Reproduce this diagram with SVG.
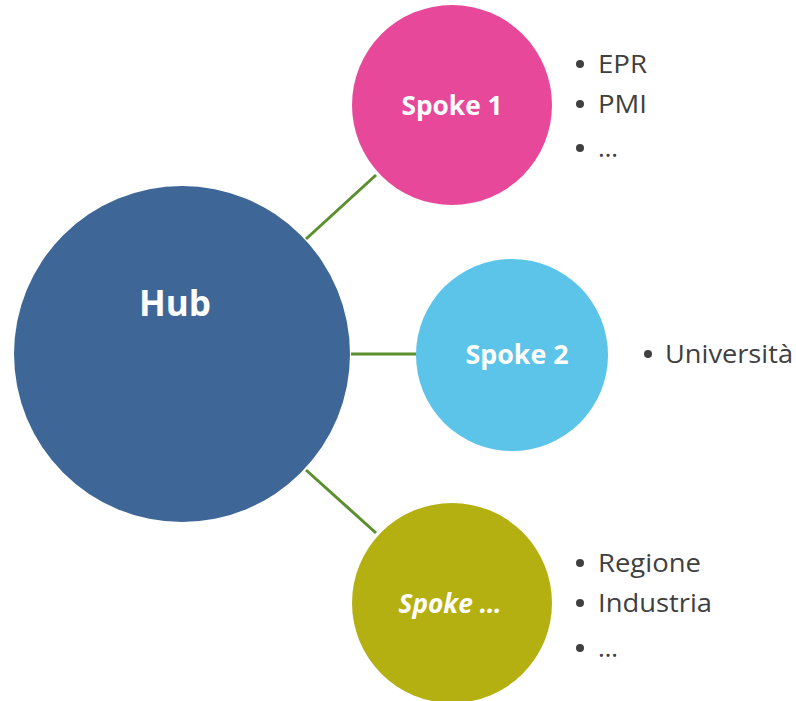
<svg xmlns="http://www.w3.org/2000/svg" width="796" height="701" viewBox="0 0 796 701">
<style>
.lbl{font-family:"Open Sans","Noto Sans",sans-serif;font-weight:bold;fill:#ffffff;text-anchor:middle}
.bul{font-family:"Open Sans","Noto Sans",sans-serif;font-size:25px;fill:#404040}
.con{stroke:#5B8F2E;stroke-width:3;fill:none}
</style>
<rect width="796" height="701" fill="#ffffff"/>
<g id="connectors">
<line class="con" x1="306" y1="239" x2="376" y2="175"/>
<line class="con" x1="351" y1="354" x2="416" y2="354"/>
<line class="con" x1="306" y1="470" x2="376" y2="533"/>
</g>
<g id="hub">
<circle cx="182" cy="354" r="168" fill="#3E6797"/>
<text class="lbl" x="175" y="316" font-size="36" textLength="72" lengthAdjust="spacingAndGlyphs">Hub</text>
</g>
<g id="spoke1">
<circle cx="452" cy="105" r="100" fill="#E8489A"/>
<text class="lbl" x="452" y="115" font-size="26" textLength="101" lengthAdjust="spacingAndGlyphs">Spoke 1</text>
</g>
<g id="spoke2">
<circle cx="512" cy="355" r="96" fill="#5BC4E8"/>
<text class="lbl" x="517" y="364" font-size="26" textLength="103" lengthAdjust="spacingAndGlyphs">Spoke 2</text>
</g>
<g id="spoke3">
<circle cx="452" cy="603" r="100" fill="#B5B012"/>
<text class="lbl" x="450" y="613" font-size="26" font-style="italic" textLength="103" lengthAdjust="spacingAndGlyphs">Spoke …</text>
</g>
<g id="list1">
<circle cx="580" cy="64" r="4" fill="#404040"/>
<text class="bul" x="598" y="73" textLength="49" lengthAdjust="spacingAndGlyphs">EPR</text>
<circle cx="580" cy="104" r="4" fill="#404040"/>
<text class="bul" x="598" y="113" textLength="49" lengthAdjust="spacingAndGlyphs">PMI</text>
<circle cx="580" cy="148" r="4" fill="#404040"/>
<text class="bul" x="598" y="157" textLength="20" lengthAdjust="spacingAndGlyphs">…</text>
</g>
<g id="list2">
<circle cx="648" cy="354" r="4" fill="#404040"/>
<text class="bul" x="665" y="363" textLength="128" lengthAdjust="spacingAndGlyphs">Università</text>
</g>
<g id="list3">
<circle cx="580" cy="563" r="4" fill="#404040"/>
<text class="bul" x="598" y="572" textLength="103" lengthAdjust="spacingAndGlyphs">Regione</text>
<circle cx="580" cy="603" r="4" fill="#404040"/>
<text class="bul" x="598" y="612" textLength="114" lengthAdjust="spacingAndGlyphs">Industria</text>
<circle cx="580" cy="648" r="4" fill="#404040"/>
<text class="bul" x="598" y="657" textLength="20" lengthAdjust="spacingAndGlyphs">…</text>
</g>
</svg>
